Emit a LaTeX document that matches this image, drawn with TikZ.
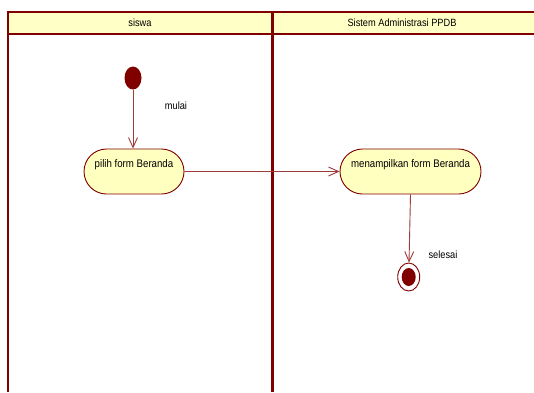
\documentclass[tikz,border=0pt]{standalone}
\usepackage{fontspec}
\setmainfont{Liberation Sans}[FakeStretch=0.88]
\usetikzlibrary{arrows.meta,shapes.misc,shapes.geometric}
\definecolor{lane}{HTML}{800000}
\definecolor{flow}{HTML}{9E3B3B}
\definecolor{head}{HTML}{FFFFC6}
\definecolor{act}{HTML}{FFFFC0}
\begin{document}
\begin{tikzpicture}[x=1pt,y=-1pt,
  lbl/.style={font=\fontsize{10.5}{12}\selectfont, inner sep=0pt},
  action/.style={rounded rectangle, draw=lane, fill=act, line width=0.9pt,
    minimum width=100pt, minimum height=45pt, inner sep=0pt,
    font=\fontsize{11}{12}\selectfont, text height=8pt, text depth=17pt},
  flowline/.style={draw=flow, line width=0.9pt, -{Straight Barb[length=10pt,width=9pt]}},
]
\useasboundingbox (0,0) rectangle (534,392);
\fill[white] (0,0) rectangle (534,392);
% swimlane frame and headers
\fill[head] (8,11.5) rectangle (540,34);
\draw[lane, line width=2pt] (8,392) -- (8,11.5) -- (540,11.5);
\draw[lane, line width=2pt] (8,34) -- (540,34);
\draw[lane, line width=3pt] (272.5,10.5) -- (272.5,392);
\node[lbl] (laneA) at (140,23) {siswa};
\node[lbl] (laneB) at (402,23) {Sistem Administrasi PPDB};
% initial and final states
\node[ellipse, fill=lane, minimum width=17pt, minimum height=23pt, inner sep=0pt] (start) at (133,78) {};
\node[ellipse, draw=lane, fill=white, line width=0.9pt, minimum width=22pt, minimum height=28pt, inner sep=0pt] (stop) at (408.7,277) {};
\node[ellipse, fill=lane, minimum width=14pt, minimum height=18pt, inner sep=0pt] (stopdot) at (stop.center) {};
% activities
\node[action] (pilih) at (134,171.5) {pilih form Beranda};
\node[action, minimum width=141pt] (tampil) at (410.5,171.5) {menampilkan form Beranda};
% labels
\node[lbl] (mulai) at (176,106) {mulai};
\node[lbl] (selesai) at (443,255) {selesai};
% transitions
\draw[flowline] (start) -- (pilih.north -| start);
\draw[flowline] (pilih) -- (tampil);
\draw[flowline] (tampil.south) -- (stop);
\end{tikzpicture}
\end{document}
